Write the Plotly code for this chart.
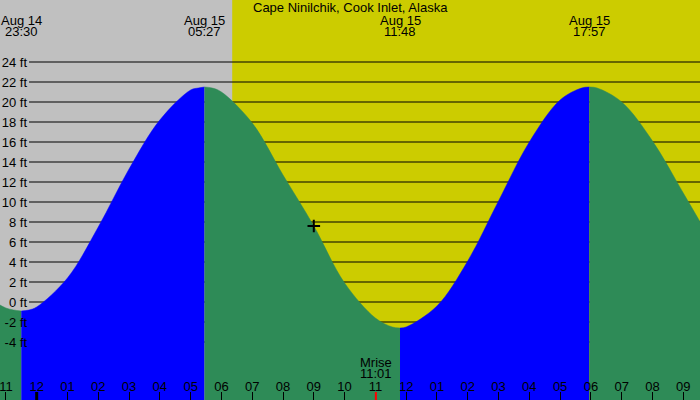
import pandas as pd
import plotly.graph_objects as go

station = "Cape Ninilchik, Cook Inlet, Alaska"

# tide height (ft)
times = ["2024-08-14 22:45", "2024-08-14 23:00", "2024-08-14 23:15", "2024-08-14 23:45",
         "2024-08-15 00:00", "2024-08-15 01:00", "2024-08-15 02:00", "2024-08-15 03:00",
         "2024-08-15 04:00", "2024-08-15 05:00", "2024-08-15 05:15", "2024-08-15 05:42",
         "2024-08-15 06:00", "2024-08-15 07:00", "2024-08-15 08:00", "2024-08-15 09:00",
         "2024-08-15 10:00", "2024-08-15 11:00", "2024-08-15 11:33", "2024-08-15 12:00",
         "2024-08-15 13:00", "2024-08-15 14:00", "2024-08-15 15:00", "2024-08-15 16:00",
         "2024-08-15 17:00", "2024-08-15 17:42", "2024-08-15 18:12", "2024-08-15 19:00",
         "2024-08-15 20:00", "2024-08-15 21:00", "2024-08-15 22:00"]
heights = [-0.2, -0.6, -0.8, -0.8,
           -0.5, 2.4, 7.5, 13.3,
           18.2, 21.2, 21.4, 21.4,
           21.0, 17.9, 12.7, 7.6,
           1.9, -1.6, -2.5, -2.5,
           -0.4, 4.1, 10.1, 16.0,
           20.2, 21.4, 21.4, 20.0,
           16.1, 10.9, 5.6]

# high / low water
extreme_times = ["2024-08-14 23:30", "2024-08-15 05:27", "2024-08-15 11:48", "2024-08-15 17:57"]
extreme_heights = [-0.9, 21.5, -2.6, 21.5]

sunrise = "2024-08-15 06:21"
moonrise = "2024-08-15 11:01"
midnight = "2024-08-15 00:00"
now_time = "2024-08-15 09:00"
now_height = 7.6

levels = list(range(-4, 25, 2))

x_start = "2024-08-14 22:48:30"
x_end = "2024-08-15 21:32:35"
y_range = [-9.8, 30.2]

FONT = "Liberation Sans"
RISE = "#0000ff"
FALL = "#2e8b57"

df = pd.DataFrame({"t": pd.to_datetime(times + extreme_times),
                   "h": heights + extreme_heights}).sort_values("t")
ext = pd.to_datetime(extreme_times)
cuts = [df.t.min()] + list(ext) + [df.t.max()]

fig = go.Figure()
for a, b in zip(cuts[:-1], cuts[1:]):
    seg = df[(df.t >= a) & (df.t <= b)]
    color = RISE if seg.h.iloc[-1] > seg.h.iloc[0] else FALL
    fig.add_trace(go.Scatter(x=[a, b], y=[y_range[0] - 5] * 2, mode="lines",
                             line=dict(width=0), hoverinfo="skip"))
    fig.add_trace(go.Scatter(x=seg.t, y=seg.h, mode="lines", fill="tonexty",
                             fillcolor=color, line=dict(color=color, width=0.5, shape="spline"),
                             hoverinfo="skip"))

# current time marker
fig.add_trace(go.Scatter(x=[now_time], y=[now_height], mode="markers",
                         marker=dict(symbol="cross-thin", size=9, line=dict(color="black", width=2))))

shapes = [dict(type="rect", xref="x", yref="paper", x0=x_start, x1=sunrise, y0=0, y1=1,
               fillcolor="#c0c0c0", line=dict(width=0), layer="below")]
for v in levels:
    shapes.append(dict(type="line", xref="paper", yref="y", x0=29 / 700, x1=1, y0=v, y1=v,
                       line=dict(color="black", width=1), layer="below"))
shapes.append(dict(type="line", xref="x", yref="paper", x0=midnight, x1=midnight, y0=0, y1=0.02,
                   line=dict(color="black", width=3)))
shapes.append(dict(type="line", xref="x", yref="paper", x0=moonrise, x1=moonrise, y0=0, y1=0.02,
                   line=dict(color="red", width=2)))

annotations = [dict(text=station, x=0.5, y=1 - 7.5 / 400, xref="paper", yref="paper",
                    showarrow=False, yanchor="middle")]
for t in ext:
    annotations.append(dict(text=t.strftime("%b %d"), x=t, y=1 - 20 / 400, xref="x", yref="paper",
                            showarrow=False, yanchor="middle"))
    annotations.append(dict(text=t.strftime("%H:%M"), x=t, y=1 - 31.5 / 400, xref="x", yref="paper",
                            showarrow=False, yanchor="middle"))
mr = pd.Timestamp(moonrise)
annotations.append(dict(text="Mrise", x=mr, y=1 - 362 / 400, xref="x", yref="paper",
                        showarrow=False, yanchor="middle"))
annotations.append(dict(text=mr.strftime("%H:%M"), x=mr, y=1 - 373 / 400, xref="x", yref="paper",
                        showarrow=False, yanchor="middle"))

fig.update_layout(
    width=700, height=400, margin=dict(l=0, r=0, t=0, b=0),
    plot_bgcolor="#cccc00", paper_bgcolor="#cccc00", showlegend=False,
    font=dict(family=FONT, size=13, color="black"),
    shapes=shapes, annotations=annotations,
)
fig.update_xaxes(type="date", range=[x_start, x_end], anchor="free", position=0, side="top",
                 ticks="outside", ticklen=8, tickwidth=1, tickcolor="black",
                 tick0=midnight, dtick=3600000, tickformat="%I",
                 ticklabeloverflow="allow", ticklabelstandoff=-4,
                 showgrid=False, zeroline=False, showline=False)
fig.update_yaxes(range=y_range, anchor="free", position=27 / 700, side="left",
                 tickvals=levels, ticktext=[f"{v} ft" for v in levels], ticks="",
                 showgrid=False, zeroline=False, showline=False)

fig.write_html("out.html", config={"displayModeBar": False},
               post_script="document.body.style.margin='0';")
